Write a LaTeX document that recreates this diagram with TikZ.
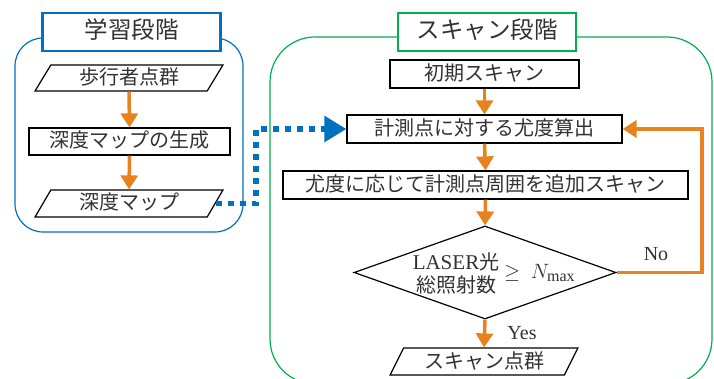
\documentclass[tikz,border=0pt]{standalone}
\usepackage{fontspec}
\setmainfont{Noto Sans CJK JP}
\newfontfamily\latf{Liberation Serif}
\usetikzlibrary{shapes.geometric,arrows.meta,calc}
\definecolor{oran}{RGB}{232,130,30}
\definecolor{bluec}{RGB}{0,112,192}
\definecolor{greenc}{RGB}{0,176,80}
\definecolor{txt}{RGB}{50,50,50}
\newcommand{\fsbox}{\fontsize{20}{23}\selectfont}
\newcommand{\fstitle}{\fontsize{23.5}{27}\selectfont}
\begin{document}
\begin{tikzpicture}[x=1pt,y=-1pt,
  every node/.style={text=txt},
  stepbox/.style={draw=black, line width=1.2pt, fill=white, inner sep=0pt,
    font=\fsbox, text height=16pt, text depth=3pt},
  para/.style={trapezium, trapezium left angle=62, trapezium right angle=118,
    trapezium stretches=true, draw=black, line width=1.2pt, fill=white,
    inner sep=0pt, font=\fsbox, text height=16pt, text depth=3pt},
  titlebox/.style={line width=2.2pt, fill=white, inner sep=0pt,
    font=\fstitle, text height=18pt, text depth=4pt,
    minimum width=178pt, minimum height=38pt},
  oarr/.style={draw=oran, line width=3.5pt, -{Triangle[width=17pt,length=14pt]}},
  barr/.style={draw=bluec, line width=5.5pt, dash pattern=on 6pt off 6pt,
    -{Triangle[width=25pt,length=22pt]}},
  lbl/.style={font=\latf\fontsize{20}{23}\selectfont, inner sep=0pt}
]
\useasboundingbox (0,0) rectangle (714,379);

% group frames
\draw[bluec, line width=1.2pt, rounded corners=28pt] (15,38) rectangle (243,232);
\draw[greenc, line width=1.2pt, rounded corners=45pt] (270,37) rectangle (712,384);

% titles
\node[titlebox, draw=bluec] (t1) at (131.5,32) {学習段階};
\node[titlebox, draw=greenc] (t2) at (487,32) {スキャン段階};

% left column
\node[para, minimum width=188pt, minimum height=26pt] (p1) at (129,78) {歩行者点群};
\node[stepbox, minimum width=201pt, minimum height=27pt] (b1) at (129.5,141.5) {深度マップの生成};
\node[para, minimum width=188pt, minimum height=27pt] (p2) at (129,203.5) {深度マップ};

% right column
\node[stepbox, minimum width=189pt, minimum height=28pt] (b2) at (484.5,74) {初期スキャン};
\node[stepbox, minimum width=275pt, minimum height=28pt] (b3) at (484.5,129) {計測点に対する尤度算出};
\node[stepbox, minimum width=405pt, minimum height=28pt] (b4) at (485.5,185) {尤度に応じて計測点周囲を追加スキャン};
\node[diamond, draw=black, line width=1.2pt, fill=white, inner sep=0pt,
  minimum width=262pt, minimum height=93pt] (dia) at (485,272.5) {};
\node[align=center, inner sep=0pt, font=\fsbox] (dtxt) at (456,273)
  {{\latf\fontsize{21}{23}\selectfont LASER}光\\総照射数};
\node[inner sep=0pt, font=\fontsize{21}{23}\selectfont, anchor=west] (dgeq) at (504,273)
  {$\geq\ N_{\hbox{\latf\fontsize{16}{18}\selectfont max}}$};
\node[para, minimum width=188pt, minimum height=27pt] (p3) at (484,361.5) {スキャン点群};

% labels
\node[lbl] (no) at (656,254) {No};
\node[lbl] (yes) at (522,333) {Yes};

% connectors
\draw[oarr] (p1.south) -- (b1.north);
\draw[oarr] (b1.south) -- (p2.north);
\draw[oarr] (b2.south) -- (b3.north);
\draw[oarr] (b3.south) -- (b4.north);
\draw[oarr] (b4.south) -- (dia.north);
\draw[oarr] (dia.south) -- (p3.north);
\coordinate (nox) at (702,0);
\draw[oarr] (dia.east) -- (nox |- dia.east) -- (nox |- b3.east) -- (b3.east);
\coordinate (bx) at (256,0);
\draw[barr] (p2.east) -- (bx |- p2.east) -- (bx |- b3.west) -- (b3.west);
\end{tikzpicture}
\end{document}
